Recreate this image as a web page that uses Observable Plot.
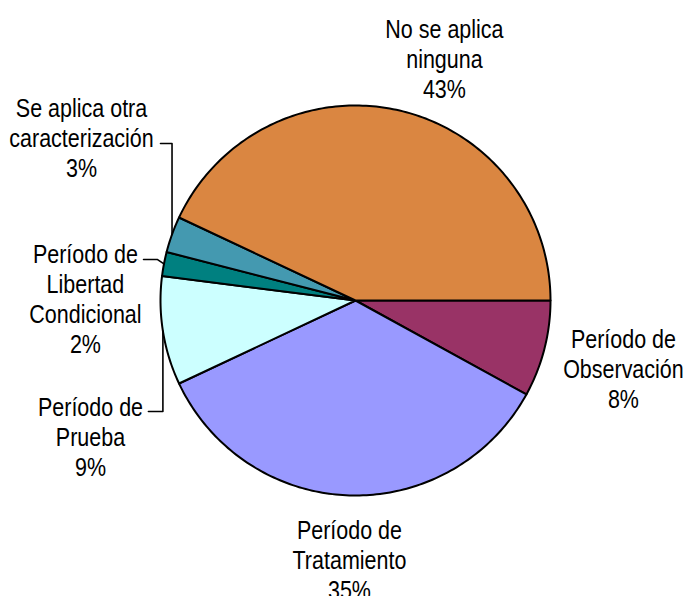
<!DOCTYPE html>
<html>
<head>
<meta charset="utf-8">
<script src="https://cdn.jsdelivr.net/npm/d3@7"></script>
<script src="https://cdn.jsdelivr.net/npm/@observablehq/plot@0.6"></script>
<style>
  html, body { margin: 0; padding: 0; background: #fff; }
  #chart svg { display: block; }
</style>
</head>
<body>
<div id="chart"></div>
<script>
// ---- data ----
const categories = [
  "Período de Observación",
  "Período de Tratamiento",
  "Período de Prueba",
  "Período de Libertad Condicional",
  "Se aplica otra caracterización",
  "No se aplica ninguna"
];
const labelTexts = [
  "Período de\nObservación",
  "Período de\nTratamiento",
  "Período de\nPrueba",
  "Período de\nLibertad\nCondicional",
  "Se aplica otra\ncaracterización",
  "No se aplica\nninguna"
];
const values = [8, 35, 9, 2, 3, 43];
const colors = ["#993366", "#9999FF", "#CCFFFF", "#008080", "#4499B0", "#DA8641"];

// ---- layout (radius units, relative to pie center) ----
const labelX = [1.374, -0.031, -1.359, -1.385, -1.405, 0.456];
const labelY = [-0.133, -1.113, -0.482, 0.303, 1.051, 1.456];
const leaders = {
  "Se aplica otra caracterización": {elbow: [null, 0.805], end: [-1.0, 0.805]},
  "Período de Libertad Condicional": {elbow: [-1.015, 0.21], end: [-1.087, 0.21]},
  "Período de Prueba": {elbow: [null, -0.569], end: [-1.062, -0.569]}
};

const W = 689, H = 596, CX = 355, CY = 300, R = 195;
const TEXT_SCALE_X = 0.86;

// pie geometry (angles clockwise from 3 o'clock)
const total = d3.sum(values);
let acc = 0;
const slices = values.map((v, i) => {
  const a0 = acc / total, a1 = (acc + v) / total;
  acc += v;
  return {label: categories[i], a0, a1, mid: (a0 + a1) / 2};
});
const pt = t => ({x: Math.cos(-2 * Math.PI * t), y: Math.sin(-2 * Math.PI * t)});

const poly = [];
slices.forEach(s => {
  poly.push({label: s.label, x: 0, y: 0});
  const n = Math.max(4, Math.ceil((s.a1 - s.a0) * 360));
  for (let k = 0; k <= n; k++) {
    const p = pt(s.a0 + (s.a1 - s.a0) * k / n);
    poly.push({label: s.label, x: p.x, y: p.y});
  }
  poly.push({label: s.label, x: 0, y: 0});
});

const leaderPts = [];
slices.forEach(s => {
  const L = leaders[s.label];
  if (!L) return;
  const m = pt(s.mid);
  leaderPts.push({label: s.label, x: m.x, y: m.y});
  leaderPts.push({label: s.label, x: L.elbow[0] == null ? m.x : L.elbow[0], y: L.elbow[1]});
  leaderPts.push({label: s.label, x: L.end[0], y: L.end[1]});
});

const labels = categories.map((c, i) => ({
  label: c,
  text: labelTexts[i] + "\n" + values[i] + "%",
  x: labelX[i], y: labelY[i]
}));

const chart = Plot.plot({
  width: W, height: H,
  margin: 0,
  style: {background: "#fff"},
  x: {domain: [-CX / R, (W - CX) / R], range: [0, W], axis: null},
  y: {domain: [-(H - CY) / R, CY / R], range: [H, 0], axis: null},
  color: {domain: categories, range: colors},
  marks: [
    Plot.line(poly, {x: "x", y: "y", z: "label", fill: "label", stroke: "#000", strokeWidth: 2, strokeLinejoin: "round"}),
    Plot.line(leaderPts, {x: "x", y: "y", z: "label", stroke: "#000", strokeWidth: 1.6}),
    Plot.text(labels, {
      x: "x", y: "y", text: "text",
      fontSize: 25, lineHeight: 1.2, lineAnchor: "top",
      fontFamily: "'Liberation Sans', Arial, sans-serif",
      fill: "#000",
      className: "pie-label"
    })
  ]
});
// condense the label text horizontally (the original uses a narrow face)
chart.querySelectorAll("g.pie-label text").forEach(t => {
  const tr = t.getAttribute("transform") || "";
  t.setAttribute("transform", tr + ` scale(${TEXT_SCALE_X},1)`);
});
document.getElementById("chart").appendChild(chart);
</script>
</body>
</html>
